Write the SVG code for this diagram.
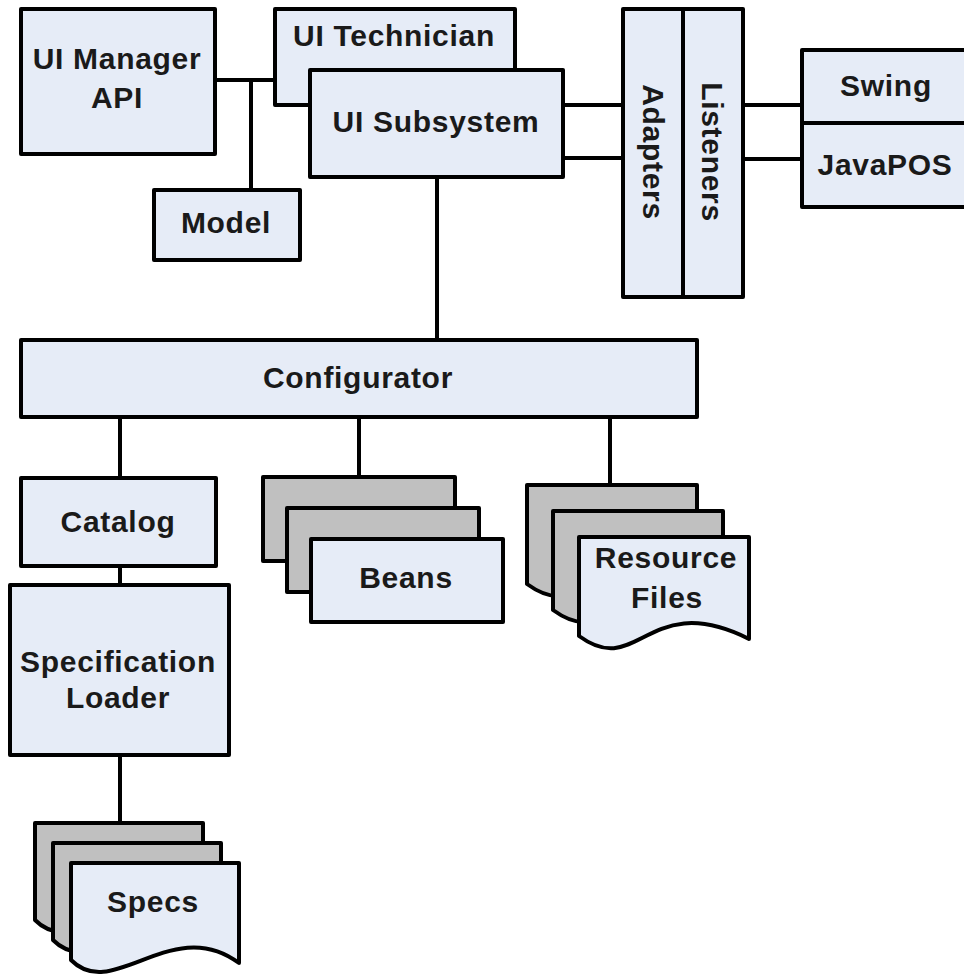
<svg xmlns="http://www.w3.org/2000/svg" width="964" height="977" viewBox="0 0 964 977">
<style>
.b{fill:#e6ecf7;stroke:#000;stroke-width:4;stroke-linejoin:round}
.g{fill:#c0c0c0;stroke:#000;stroke-width:4;stroke-linejoin:round}
.c{fill:none;stroke:#000;stroke-width:4}
text{font-family:"Liberation Sans",Arial,sans-serif;font-weight:bold;font-size:30px;letter-spacing:0.7px;fill:#1a1a1a;text-anchor:middle}
</style>
<rect width="964" height="977" fill="#fff"/>
<g id="connectors">
<path class="c" d="M215,80H275M251,80V190M563,105H623M563,158H623M743,105H802M743,159H802M437,177V340M120,417V478M359,417V477M610,417V485M120,566V585M120,755V823"/>
</g>
<g id="uimanager"><rect class="b" x="21" y="9" width="194" height="145"/><text x="117" y="69">UI Manager</text><text x="117" y="108">API</text></g>
<g id="uitechnician"><rect class="b" x="275" y="9" width="240" height="96"/><text x="394" y="46">UI Technician</text></g>
<g id="uisubsystem"><rect class="b" x="310" y="70" width="253" height="107"/><text x="436" y="132">UI Subsystem</text></g>
<g id="model"><rect class="b" x="154" y="190" width="146" height="70"/><text x="226" y="233">Model</text></g>
<g id="adapters"><rect class="b" x="623" y="9" width="60" height="288"/><text transform="translate(653,152) rotate(90)" x="0" y="10">Adapters</text></g>
<g id="listeners"><rect class="b" x="683" y="9" width="60" height="288"/><text transform="translate(712,152) rotate(90)" x="0" y="10">Listeners</text></g>
<g id="swing"><rect class="b" x="802" y="50" width="180" height="73"/><text x="886" y="96">Swing</text></g>
<g id="javapos"><rect class="b" x="802" y="123" width="180" height="84"/><text x="885" y="175">JavaPOS</text></g>
<g id="configurator"><rect class="b" x="21" y="340" width="676" height="77"/><text x="358" y="388">Configurator</text></g>
<g id="catalog"><rect class="b" x="21" y="478" width="195" height="88"/><text x="118" y="532">Catalog</text></g>
<g id="specloader"><rect class="b" x="10" y="585" width="219" height="170"/><text x="118" y="672">Specification</text><text x="118" y="708">Loader</text></g>
<g id="beans">
<rect class="g" x="263" y="477" width="192" height="84"/>
<rect class="g" x="287" y="508" width="192" height="84"/>
<rect class="b" x="311" y="539" width="192" height="83"/>
<text x="406" y="588">Beans</text>
</g>
<g id="resourcefiles">
<path class="g" d="M527,485H697V587C595,536 587,628 527,584Z"/>
<path class="g" d="M553,511H723V613C621,562 613,654 553,610Z"/>
<path class="b" d="M579,537H749V639C647,588 639,680 579,636Z"/>
<text x="666" y="568">Resource</text><text x="667" y="608">Files</text>
</g>
<g id="specs">
<path class="g" d="M35,823H203V923C136,873 77,963 35,920Z"/>
<path class="g" d="M53,843H221V943C154,893 95,983 53,940Z"/>
<path class="b" d="M71,863H239V963C172,913 113,1003 71,960Z"/>
<text x="153" y="912">Specs</text>
</g>
</svg>
